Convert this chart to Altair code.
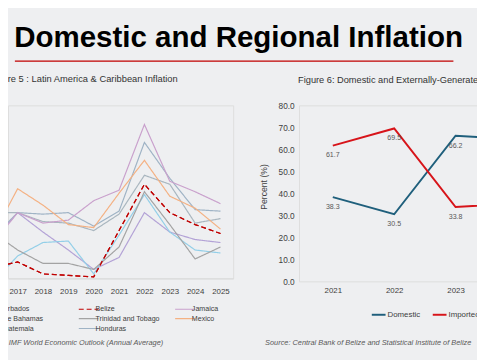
import altair as alt
import pandas as pd

# ---------------- data ----------------
MAIN_TITLE = "Domestic and Regional Inflation"
LEFT_TITLE = "Figure 5 : Latin America & Caribbean Inflation"
RIGHT_TITLE = "Figure 6: Domestic and Externally-Generated Inflation"
LEFT_SOURCE = "Source: IMF World Economic Outlook  (Annual Average)"
RIGHT_SOURCE = "Source: Central Bank of Belize and Statistical Institute of Belize"

YEARS = [2016, 2017, 2018, 2019, 2020, 2021, 2022, 2023, 2024, 2025]
# legend fills column by column
COUNTRIES = ["Barbados", "The Bahamas", "Guatemala", "Belize",
             "Trinidad and Tobago", "Honduras", "Jamaica", "Mexico"]
BARBADOS = [2.5, 4.4, 3.1, 1.9, 0.6, 1.4, 4.4, 3.1, 2.6, 2.4]
BAHAMAS = [-0.3, 1.5, 2.4, 2.5, 0.3, 2.9, 5.6, 3.1, 1.9, 1.7]
GUATEMALA = [4.4, 4.4, 3.8, 3.7, 3.2, 4.3, 6.9, 6.3, 3.7, 4.0]
BELIZE = [0.7, 1.1, 0.3, 0.2, 0.1, 3.2, 6.3, 4.4, 3.6, 3.0]
TRINIDAD = [3.1, 1.9, 1.0, 1.0, 0.6, 2.1, 5.8, 3.6, 1.3, 2.1]
HONDURAS = [2.7, 4.4, 4.3, 4.4, 3.5, 4.5, 9.1, 6.7, 4.6, 4.5]
JAMAICA = [2.3, 4.4, 3.7, 3.9, 5.2, 5.9, 10.3, 6.5, 5.8, 5.0]
MEXICO = [2.8, 6.0, 4.9, 3.6, 3.4, 5.7, 7.9, 5.5, 4.7, 3.3]
SERIES = [BARBADOS, BAHAMAS, GUATEMALA, BELIZE, TRINIDAD, HONDURAS, JAMAICA, MEXICO]

COLORS = ["#b3a2d6", "#93cfe8", "#a9b6bf", "#c00000",
          "#a3a3a3", "#9fb3c5", "#c9a0cc", "#f4b183"]
DASHES = [[1, 0], [1, 0], [1, 0], [5, 3], [1, 0], [1, 0], [1, 0], [1, 0]]
WIDTHS = [1.2, 1.2, 1.2, 2.6, 1.2, 1.2, 1.2, 1.2]

R_YEARS = ["2021", "2022", "2023", "2024"]
DOMESTIC = [38.3, 30.5, 66.2, 64.6]
IMPORTED = [61.7, 69.5, 33.8, 35.4]
R_SERIES = ["Domestic", "Imported"]
R_COLORS = ["#1f5f7c", "#d7141a"]

# ---------------- header ----------------
head = alt.Chart(pd.DataFrame({"t": [MAIN_TITLE]})).mark_text(
    fontSize=30, fontWeight="bold", color="#000000", align="center",
    baseline="alphabetic").encode(text="t:N", x=alt.value(234.5), y=alt.value(37))
underline = alt.Chart(pd.DataFrame({"a": [0]})).mark_rule(
    color="#c00000", strokeWidth=1.2).encode(
    x=alt.value(7), x2=alt.value(453), y=alt.value(51))
header = alt.layer(head, underline).properties(
    width=461, height=60,
    view=alt.ViewBackground(stroke="transparent", strokeWidth=0, fill="transparent"))

# ---------------- left chart ----------------
rows = []
for name, vals in zip(COUNTRIES, SERIES):
    for yr, v in zip(YEARS, vals):
        rows.append({"year": yr, "value": v, "country": name})
left_df = pd.DataFrame(rows)

leg = alt.Legend(orient="none", legendX=-21, legendY=201, columns=3,
                 symbolType="M-2.2,0H1.8", symbolSize=100, labelFontSize=7.2,
                 labelColor="#404040", title=None, rowPadding=0,
                 columnPadding=12, gridAlign="all", labelOffset=0, padding=0)

xl = alt.X("year:Q",
           scale=alt.Scale(domain=[2016.62, 2025.5], nice=False, zero=False),
           axis=alt.Axis(values=YEARS[1:], format="d", labelFontSize=8,
                         labelColor="#404040", ticks=False, grid=False,
                         domain=True, domainColor="#d9d9d9", labelPadding=9,
                         labelFlush=False,
                         title=LEFT_SOURCE, titleFontSize=7.5,
                         titleFontStyle="italic", titleFontWeight="normal",
                         titleColor="#595959", titleAlign="left",
                         titleX=-27.6, titleY=65.5, titleBaseline="middle"))
yl = alt.Y("value:Q", scale=alt.Scale(domain=[0, 11.58], nice=False), axis=None)
col = alt.Color("country:N", scale=alt.Scale(domain=COUNTRIES, range=COLORS), legend=leg)
dash = alt.StrokeDash("country:N", scale=alt.Scale(domain=COUNTRIES, range=DASHES), legend=leg)
sw = alt.StrokeWidth("country:N", scale=alt.Scale(domain=COUNTRIES, range=WIDTHS), legend=leg)

lines_all = alt.Chart(left_df).mark_line(clip=True).encode(
    x=xl, y=yl, color=col, strokeDash=dash, strokeWidth=sw)
belize_top = alt.Chart(left_df[left_df.country == "Belize"]).mark_line(clip=True).encode(
    x=xl, y=yl, color=col, strokeDash=dash, strokeWidth=sw)

left = alt.layer(lines_all, belize_top).properties(
    width=229, height=176,
    title=alt.TitleParams(LEFT_TITLE, anchor="start", dx=-18.8, fontSize=9.5,
                          fontWeight="normal", color="#333333", offset=14,
                          baseline="alphabetic", frame="group"))

# ---------------- right chart ----------------
right_df = pd.DataFrame({
    "year": R_YEARS * 2,
    "value": DOMESTIC + IMPORTED,
    "series": ["Domestic"] * 4 + ["Imported"] * 4,
})

xr = alt.X("year:O", scale=alt.Scale(type="point", padding=0.55),
           axis=alt.Axis(labelAngle=0, labelFontSize=8, labelColor="#404040",
                         ticks=False, domain=False, grid=False, labelPadding=5,
                         title=RIGHT_SOURCE, titleFontSize=7.5,
                         titleFontStyle="italic", titleFontWeight="normal",
                         titleColor="#595959", titleAlign="left",
                         titleX=-35, titleY=62, titleBaseline="middle"))
yr_ = alt.Y("value:Q", scale=alt.Scale(domain=[0, 80], nice=False),
            axis=alt.Axis(values=[0, 10, 20, 30, 40, 50, 60, 70, 80], format=".1f",
                          labelFontSize=8.4, labelColor="#404040", ticks=False,
                          domain=False, grid=False, labelPadding=5,
                          title="Percent (%)", titleFontSize=8.8,
                          titleFontWeight="normal", titleColor="#404040",
                          titlePadding=10, titleY=82.5))
rleg = alt.Legend(orient="none", legendX=73, legendY=205, direction="horizontal",
                  symbolType="stroke", symbolSize=196, symbolStrokeWidth=2,
                  labelFontSize=8, labelColor="#404040", labelOffset=1,
                  columnPadding=8, title=None, padding=0)

r_lines = alt.Chart(right_df).mark_line(strokeWidth=2).encode(
    x=xr, y=yr_,
    color=alt.Color("series:N", scale=alt.Scale(domain=R_SERIES, range=R_COLORS), legend=rleg))
r_labels = alt.Chart(right_df).mark_text(dy=10, fontSize=7.2, color="#595959").encode(
    x=xr, y=yr_, text=alt.Text("value:Q", format=".1f"))

right = alt.layer(r_lines, r_labels).properties(
    width=256, height=179,
    title=alt.TitleParams(RIGHT_TITLE, anchor="start", dx=-1, fontSize=9.4,
                          fontWeight="normal", color="#333333", offset=9.5,
                          baseline="alphabetic", frame="group"))

body = alt.hconcat(left, right, spacing=67, bounds="flush").resolve_scale(
    color="independent", strokeDash="independent", strokeWidth="independent"
).resolve_legend(color="independent", strokeDash="independent", strokeWidth="independent")

chart = alt.vconcat(header, body, spacing=36, bounds="flush").resolve_scale(
    color="independent", strokeDash="independent", strokeWidth="independent"
).resolve_legend(color="independent", strokeDash="independent", strokeWidth="independent"
).properties(
    autosize=alt.AutoSizeParams(type="none"),
    padding={"left": 0, "top": 0, "right": 477, "bottom": 352},
    background="#eeeff1",
).configure_view(stroke="transparent", strokeWidth=0).configure(font="Liberation Sans")

chart.save("out.html", embed_options={"renderer": "svg", "actions": False})
